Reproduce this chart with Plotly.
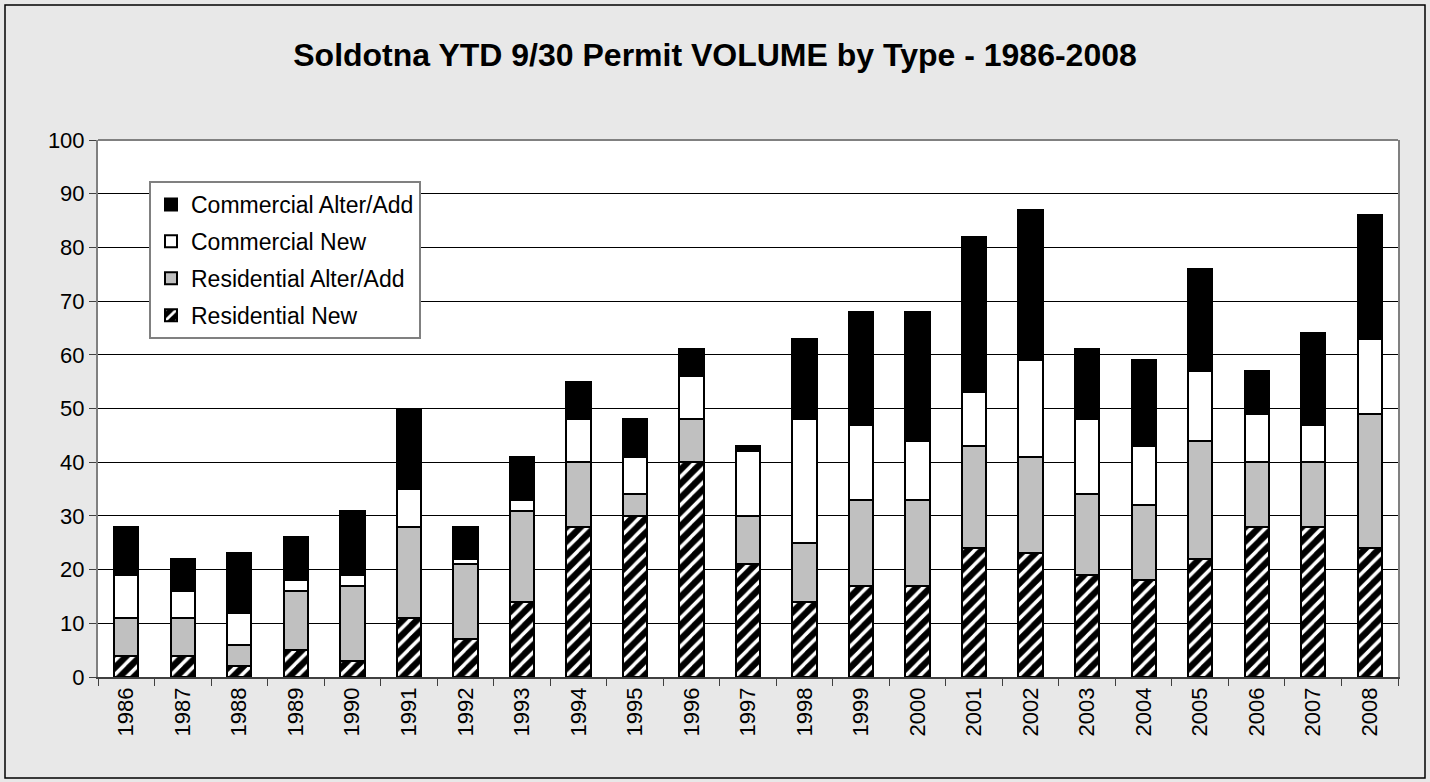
import plotly.graph_objects as go

years = [str(y) for y in range(1986, 2009)]
res_new = [4, 4, 2, 5, 3, 11, 7, 14, 28, 30, 40, 21, 14, 17, 17, 24, 23, 19, 18, 22, 28, 28, 24]
res_alter = [7, 7, 4, 11, 14, 17, 14, 17, 12, 4, 8, 9, 11, 16, 16, 19, 18, 15, 14, 22, 12, 12, 25]
com_new = [8, 5, 6, 2, 2, 7, 1, 2, 8, 7, 8, 12, 23, 14, 11, 10, 18, 14, 11, 13, 9, 7, 14]
com_alter = [9, 6, 11, 8, 12, 15, 6, 8, 7, 7, 5, 1, 15, 21, 24, 29, 28, 13, 16, 19, 8, 17, 23]

font = "Arial, Liberation Sans, sans-serif"
line = dict(color="black", width=2)

fig = go.Figure()
fig.add_trace(go.Bar(x=years, y=res_new, name="Residential New", legendgroup="a", legendrank=4,
                     marker=dict(color="black", line=line,
                                 pattern=dict(shape="/", fgcolor="white", bgcolor="black",
                                              size=10, solidity=0.35, fillmode="replace"))))
fig.add_trace(go.Bar(x=years, y=res_alter, name="Residential Alter/Add", legendgroup="b", legendrank=3,
                     marker=dict(color="#c0c0c0", line=line)))
fig.add_trace(go.Bar(x=years, y=com_new, name="Commercial New", legendgroup="c", legendrank=2,
                     marker=dict(color="white", line=line)))
fig.add_trace(go.Bar(x=years, y=com_alter, name="Commercial Alter/Add", legendgroup="d", legendrank=1,
                     marker=dict(color="black", line=line)))

W, H = 1430, 782
ml, mr, mt, mb = 98, 32, 140, 105
pw, ph = W - ml - mr, H - mt - mb

fig.update_layout(
    width=W, height=H,
    barmode="stack", bargap=0.57,
    paper_bgcolor="#e8e8e8", plot_bgcolor="white",
    margin=dict(l=ml, r=mr, t=mt, b=mb),
    font=dict(family=font, color="black", size=22),
    title=dict(text="<b>Soldotna YTD 9/30 Permit VOLUME by Type - 1986-2008</b>",
               x=0.5, xanchor="center", y=1 - 55 / H, yanchor="middle",
               font=dict(size=32, family=font)),
    legend=dict(x=(149 - ml) / pw, y=(677 - 181) / ph, xanchor="left", yanchor="top",
                traceorder="grouped", tracegroupgap=4, itemwidth=30,
                bgcolor="white", bordercolor="#808080", borderwidth=2,
                font=dict(size=23, family=font)),
    xaxis=dict(type="category", tickangle=-90, tickfont=dict(size=22),
               ticks="outside", tickson="boundaries", ticklen=7, tickcolor="#404040",
               showline=True, linecolor="#404040", linewidth=1.5, mirror=False),
    yaxis=dict(range=[0, 100], dtick=10, tickfont=dict(size=22),
               ticks="outside", ticklen=7, tickcolor="#404040",
               showgrid=True, gridcolor="black", gridwidth=1,
               showline=True, linecolor="#808080", linewidth=2, mirror=True),
    shapes=[
        dict(type="line", xref="paper", yref="paper", x0=0, x1=1, y0=1, y1=1,
             line=dict(color="#808080", width=2)),
        dict(type="rect", xref="paper", yref="paper",
             x0=(5 - ml) / pw, x1=1 + (mr - 5) / pw,
             y0=-(mb - 4) / ph, y1=1 + (mt - 5) / ph,
             line=dict(color="black", width=1.5), fillcolor="rgba(0,0,0,0)", layer="below"),
    ],
)

fig.write_html("out.html", config={"displayModeBar": False},
               post_script="document.body.style.margin='0';")
